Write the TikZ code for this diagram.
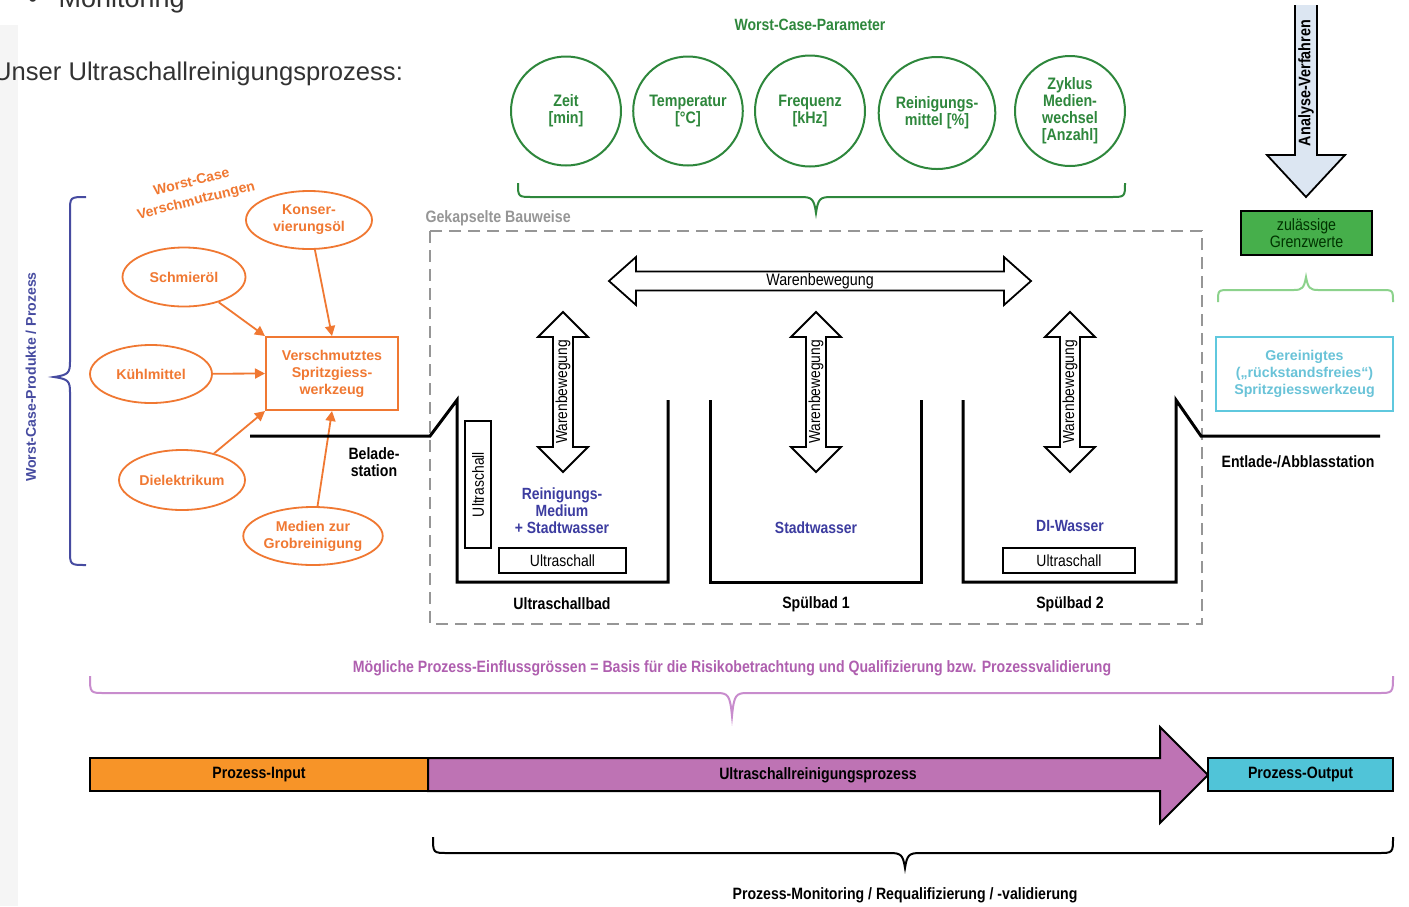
\documentclass[tikz,border=0pt]{standalone}
\usepackage{fontspec}
\setmainfont{Liberation Sans}
\newfontfamily\nar[FakeStretch=0.86]{Liberation Sans}
\usetikzlibrary{arrows.meta,shapes.geometric}

\definecolor{grn}{RGB}{46,135,60}
\definecolor{org}{RGB}{240,120,50}
\definecolor{bluebrace}{RGB}{70,75,160}
\definecolor{bathblue}{RGB}{60,60,160}
\definecolor{dashgray}{RGB}{150,150,150}
\definecolor{purtext}{RGB}{175,95,175}
\definecolor{purbrace}{RGB}{200,140,205}
\definecolor{lgreen}{RGB}{140,210,140}
\definecolor{cyanline}{RGB}{95,200,222}
\definecolor{cyantext}{RGB}{105,195,216}
\definecolor{inorange}{RGB}{247,148,40}
\definecolor{purfill}{RGB}{190,115,180}
\definecolor{outcyan}{RGB}{80,196,216}
\definecolor{limitgreen}{RGB}{70,175,75}
\definecolor{analysefill}{RGB}{220,230,242}
\definecolor{pagetext}{RGB}{50,50,50}

\begin{document}
\begin{tikzpicture}[x=1pt,y=-1pt,
  gcirc/.style={ellipse, draw=grn, line width=2pt, text=grn, align=center,
    inner sep=0pt, font=\nar\bfseries\fontsize{16.6}{17}\selectfont},
  ocirc/.style={ellipse, draw=org, line width=1.8pt, text=org, align=center,
    inner sep=0pt, font=\bfseries\fontsize{14.2}{17}\selectfont},
  oarrow/.style={draw=org, line width=1.8pt, -{Triangle[length=10pt,width=10pt]}},
  tank/.style={line width=3pt, line join=miter},
  usbox/.style={draw, line width=1.5pt, fill=white, inner sep=0pt,
    font=\nar\fontsize{16.2}{17}\selectfont},
  blockarrow/.style={draw, line width=1.8pt, fill=white, line join=miter},
  lbl/.style={font=\nar\bfseries\fontsize{16.4}{17}\selectfont, align=center},
  bathlbl/.style={font=\nar\bfseries\fontsize{16.2}{17}\selectfont, text=bathblue, align=center},
  bar/.style={draw, line width=2pt, line join=miter, inner sep=0pt,
    font=\nar\bfseries\fontsize{16.4}{17}\selectfont}
]
\useasboundingbox (0,0) rectangle (1409,906);
\fill[white] (0,0) rectangle (1409,906);
\fill[black!4] (0,25) rectangle (18,906);

% page text around the figure
\node[anchor=base west, inner sep=0pt, text=pagetext, font=\fontsize{27}{30}\selectfont]
  (mon) at (28,7) {\textbullet\hspace{21pt}Monitoring};
\node[anchor=base west, inner sep=0pt, text=pagetext, font=\fontsize{25.6}{28}\selectfont]
  (intro) at (-7,80) {Unser Ultraschallreinigungsprozess:};

% ---------- worst-case parameters ----------
\node[text=grn, font=\nar\bfseries\fontsize{16.3}{17}\selectfont] (wcp) at (810,25) {Worst-Case-Parameter};
\node[gcirc, minimum width=110pt, minimum height=109pt] (zeit) at (566,111) {Zeit\\{}[min]};
\node[gcirc, minimum width=108pt, minimum height=109pt] (temp) at (688,111) {Temperatur\\{}[°C]};
\node[gcirc, minimum width=110pt, minimum height=111pt] (freq) at (810,111) {Frequenz\\{}[kHz]};
\node[gcirc, minimum width=111pt, minimum height=112pt] (rmit) at (937,113) {Reinigungs-\\mittel [\%]};
\node[gcirc, minimum width=110pt, minimum height=110pt] (zykl) at (1070,111) {Zyklus\\Medien-\\wechsel\\{}[Anzahl]};
\draw[grn, line width=2pt]
  (518,183) .. controls (518,197) .. (533,197) -- (801,197)
  .. controls (812,197) and (814,199) .. (816,213)
  .. controls (818,199) and (820,197) .. (831,197) -- (1110,197)
  .. controls (1125,197) .. (1125,183);

% ---------- analysis and limits ----------
\fill[analysefill] (1295,5) -- (1295,155) -- (1267,155) -- (1306,197) -- (1345,155) -- (1317,155) -- (1317,5) -- cycle;
\draw[line width=1.8pt, line join=miter] (1295,5) -- (1295,155) -- (1267,155) -- (1306,197) -- (1345,155) -- (1317,155) -- (1317,5);
\node[rotate=90, font=\nar\bfseries\fontsize{16.7}{17}\selectfont] (ana) at (1306,83) {Analyse-Verfahren};
\node[draw, line width=1.8pt, fill=limitgreen, minimum width=131pt, minimum height=44pt, align=center,
  text=black!80!green, font=\nar\fontsize{16.5}{17}\selectfont] (grenz) at (1306.5,233) {zulässige\\Grenzwerte};
\draw[lgreen, line width=2pt]
  (1218,302) .. controls (1218,290) .. (1230,290) -- (1294,290)
  .. controls (1302,290) and (1304,288) .. (1306,277)
  .. controls (1308,288) and (1310,290) .. (1318,290) -- (1381,290)
  .. controls (1393,290) .. (1393,302);
\node[draw=cyanline, line width=2pt, minimum width=177pt, minimum height=74pt, align=center,
  text=cyantext, font=\bfseries\fontsize{14.2}{17}\selectfont] (clean) at (1304.5,374)
  {Gereinigtes\\(„rückstandsfreies“)\\Spritzgiesswerkzeug};

% ---------- contamination sources ----------
\draw[bluebrace, line width=2pt]
  (86,197) .. controls (70,197) .. (70,212) -- (70,362)
  .. controls (70,373) and (68,375) .. (54,377)
  .. controls (68,379) and (70,381) .. (70,392) -- (70,550)
  .. controls (70,565) .. (86,565);
\node[rotate=90, text=bluebrace, font=\bfseries\fontsize{14.1}{16}\selectfont] (wcprod) at (31,377) {Worst-Case-Produkte / Prozess};
\node[rotate=14, text=org, align=center, font=\bfseries\fontsize{14}{19}\selectfont] (wcv) at (194,192) {Worst-Case\\Verschmutzungen};
\node[ocirc, minimum width=126pt, minimum height=58pt] (kons) at (309,220) {Konser-\\vierungsöl};
\node[ocirc, minimum width=123pt, minimum height=59pt] (schm) at (184,277) {Schmieröl};
\node[ocirc, minimum width=122pt, minimum height=58pt] (kuehl) at (151,374) {Kühlmittel};
\node[ocirc, minimum width=126pt, minimum height=60pt] (diel) at (182,480) {Dielektrikum};
\node[ocirc, minimum width=136pt, minimum height=58pt] (grob) at (313,536) {Medien zur\\Grobreinigung};
\node[draw=org, line width=2pt, minimum width=132pt, minimum height=73pt, align=center, text=org,
  font=\bfseries\fontsize{14.2}{17}\selectfont] (tool) at (332,373.5) {Verschmutztes\\Spritzgiess-\\werkzeug};
\draw[oarrow] (schm) -- (tool.north west);
\draw[oarrow] (kons) -- (tool.north);
\draw[oarrow] (kuehl) -- (tool.west);
\draw[oarrow] (diel) -- (tool.south west);
\draw[oarrow] (grob) -- (tool.south);

% ---------- encapsulated cleaning line ----------
\node[anchor=west, text=dashgray, font=\nar\bfseries\fontsize{16.5}{17}\selectfont] (gek) at (422,218) {Gekapselte Bauweise};
\draw[dashgray, line width=1.5pt, dash pattern=on 12pt off 7pt] (430,231) rectangle (1202,624);

\draw[tank] (250,436) -- (430,436) -- (457,400) -- (457,582) -- (668,582) -- (668,400);
\draw[tank] (710,400) -- (710,582) -- (921,582) -- (921,400);
\draw[tank] (963,400) -- (963,582) -- (1176,582) -- (1176,400) -- (1201,436) -- (1380,436);

\node[lbl] (bel) at (374,462) {Belade-\\station};
\node[lbl] (entl) at (1298,462) {Entlade-/Abblasstation};

% goods movement between baths
\draw[blockarrow] (609,281) -- (636,257) -- (636,271.5) -- (1004,271.5) -- (1004,257) -- (1031,281)
  -- (1004,305) -- (1004,290.5) -- (636,290.5) -- (636,305) -- cycle;
\node[font=\nar\fontsize{16.6}{17}\selectfont] (wh) at (820,281) {Warenbewegung};
\foreach \cx/\nm in {563/a,816/b,1070/c}{
  \draw[blockarrow] (\cx,312) -- (\cx+25,337) -- (\cx+10,337) -- (\cx+10,447) -- (\cx+25,447) -- (\cx,472)
    -- (\cx-25,447) -- (\cx-10,447) -- (\cx-10,337) -- (\cx-25,337) -- cycle;
  \node[rotate=90, font=\nar\fontsize{16}{17}\selectfont] (wv\nm) at (\cx,392) {Warenbewegung};
}

% ultrasonic transducers
\node[usbox, minimum width=26pt, minimum height=127pt] (usv) at (478,484.5) {};
\node[rotate=90, font=\nar\fontsize{16.2}{17}\selectfont] (usvt) at (usv) {Ultraschall};
\node[usbox, minimum width=127pt, minimum height=25pt] (us1) at (562.5,560.5) {Ultraschall};
\node[usbox, minimum width=132pt, minimum height=25pt] (us2) at (1069,560.5) {Ultraschall};

\node[bathlbl] (med1) at (562,511) {Reinigungs-\\Medium\\+ Stadtwasser};
\node[bathlbl] (med2) at (816,528) {Stadtwasser};
\node[bathlbl] (med3) at (1070,526) {DI-Wasser};

\node[lbl] (b1) at (562,604) {Ultraschallbad};
\node[lbl] (b2) at (816,604) {Spülbad 1};
\node[lbl] (b3) at (1070,604) {Spülbad 2};

% ---------- process overview ----------
\node[text=purtext, font=\nar\bfseries\fontsize{16.4}{17}\selectfont] (infl) at (732,668)
  {Mögliche Prozess-Einflussgrössen = Basis für die Risikobetrachtung und Qualifizierung bzw. Prozessvalidierung};
\draw[purbrace, line width=2pt]
  (90,676) .. controls (90,693) .. (105,693) -- (717,693)
  .. controls (728,693) and (730,695) .. (732,716)
  .. controls (734,695) and (736,693) .. (747,693) -- (1378,693)
  .. controls (1393,693) .. (1393,676);

\node[bar, fill=inorange, minimum width=338pt, minimum height=33pt] (pin) at (259,774.5) {Prozess-Input};
\draw[bar, fill=purfill] (428,758) -- (1160,758) -- (1160,727) -- (1208,775) -- (1160,823) -- (1160,791) -- (428,791) -- cycle;
\node[font=\nar\bfseries\fontsize{16.4}{17}\selectfont] (proc) at (818,775) {Ultraschallreinigungsprozess};
\node[bar, fill=outcyan, minimum width=185pt, minimum height=33pt] (pout) at (1300.5,774.5) {Prozess-Output};

\draw[line width=2pt]
  (433,837) .. controls (433,853) .. (448,853) -- (890,853)
  .. controls (901,853) and (903,855) .. (905,868)
  .. controls (907,855) and (909,853) .. (920,853) -- (1378,853)
  .. controls (1393,853) .. (1393,837);
\node[font=\nar\bfseries\fontsize{16.4}{17}\selectfont] (mon2) at (905,895) {Prozess-Monitoring / Requalifizierung / -validierung};
\end{tikzpicture}
\end{document}
